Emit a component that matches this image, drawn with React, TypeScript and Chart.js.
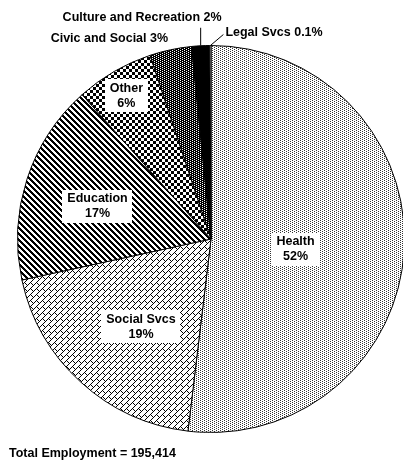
import React, { useEffect, useRef } from "react";
import { Chart, registerables } from "chart.js";

Chart.register(...registerables);

// ---- Data ----
const categories = [
  "Health",
  "Social Svcs",
  "Education",
  "Other",
  "Civic and Social",
  "Culture and Recreation",
  "Legal Svcs",
];
const shares = [51.9, 19.7, 16.8, 6.5, 3.5, 1.5, 0.1];
const shareLabels = ["52%", "19%", "17%", "6%", "3%", "2%", "0.1%"];
const totalEmployment = "195,414";

// ---- Styling / placement (not data) ----
const FONT = "bold 12.5px 'Liberation Sans', Arial, Helvetica, sans-serif";

// inside labels: radius fraction + angle nudge (degrees)
const innerPlacement: Record<number, { r: number; da: number }> = {
  0: { r: 0.44, da: 3.4 },
  1: { r: 0.58, da: -3.7 },
  2: { r: 0.61, da: -2 },
  3: { r: 0.86, da: -0.5 },
};

// outside labels: offsets from the arc's outer mid point
const outerPlacement: Record<
  number,
  { line?: [number, number]; tx: number; ty: number; align: CanvasTextAlign }
> = {
  4: { tx: -2.5, ty: -11.3, align: "right" },
  5: { line: [0, -18], tx: 21, ty: -28, align: "right" },
  6: { line: [13, -11], tx: 15, ty: -12.5, align: "left" },
};

function pixelPattern(
  w: number,
  h: number,
  fn: (x: number, y: number) => string
): CanvasPattern | string {
  const c = document.createElement("canvas");
  c.width = w;
  c.height = h;
  const ctx = c.getContext("2d")!;
  for (let y = 0; y < h; y++) {
    for (let x = 0; x < w; x++) {
      ctx.fillStyle = fn(x, y);
      ctx.fillRect(x, y, 1, 1);
    }
  }
  const main = document.createElement("canvas").getContext("2d")!;
  return main.createPattern(c, "repeat") || "#888";
}

const mod = (a: number, n: number) => ((a % n) + n) % n;

function makePatterns() {
  const health = pixelPattern(4, 2, (x, y) =>
    (x === 0 && y === 0) || (x === 2 && y === 1) ? "#333" : "#fff"
  );
  const social = pixelPattern(12, 12, (x, y) => {
    const a = x + y;
    const b = x - y;
    if (mod(a, 6) === 0) return "#000";
    const k = Math.floor(a / 6);
    const off = mod(k, 2) * 6;
    if (mod(b, 12) === off) return "#000";
    return "#fff";
  });
  const education = pixelPattern(6, 6, (x, y) =>
    mod(x - y, 6) < 3 ? "#000" : "#fff"
  );
  const other = pixelPattern(6, 6, (x, y) =>
    (Math.floor(x / 3) + Math.floor(y / 3)) % 2 === 0 ? "#000" : "#fff"
  );
  const civic = pixelPattern(4, 2, (x, y) =>
    (x === 0 && y === 0) || (x === 2 && y === 1) ? "#fff" : "#000"
  );
  return [health, social, education, other, civic, "#000", "#fff"];
}

const labelsPlugin = {
  id: "sliceLabels",
  afterDatasetsDraw(chart: any) {
    const ctx: CanvasRenderingContext2D = chart.ctx;
    const meta = chart.getDatasetMeta(0);
    ctx.save();
    ctx.font = FONT;
    ctx.textBaseline = "middle";
    meta.data.forEach((arc: any, i: number) => {
      const { x, y, startAngle, endAngle, outerRadius } = arc.getProps(
        ["x", "y", "startAngle", "endAngle", "outerRadius"],
        true
      );
      const mid = (startAngle + endAngle) / 2;
      const inner = innerPlacement[i];
      if (inner) {
        const a = mid + (inner.da * Math.PI) / 180;
        const px = x + Math.cos(a) * outerRadius * inner.r;
        const py = y + Math.sin(a) * outerRadius * inner.r;
        const lines = [categories[i], shareLabels[i]];
        const w = Math.max(...lines.map((l) => ctx.measureText(l).width));
        const lh = 15;
        const bw = w + 10;
        const bh = 33;
        ctx.fillStyle = "#fff";
        ctx.fillRect(Math.round(px - bw / 2), Math.round(py - bh / 2), Math.round(bw), bh);
        ctx.fillStyle = "#000";
        ctx.textAlign = "center";
        ctx.fillText(lines[0], px, py - lh / 2);
        ctx.fillText(lines[1], px, py + lh / 2);
      }
      const outer = outerPlacement[i];
      if (outer) {
        const ax = x + Math.cos(mid) * outerRadius;
        const ay = y + Math.sin(mid) * outerRadius;
        if (outer.line) {
          ctx.strokeStyle = "#000";
          ctx.lineWidth = 1;
          ctx.beginPath();
          ctx.moveTo(ax, ay);
          ctx.lineTo(ax + outer.line[0], ay + outer.line[1]);
          ctx.stroke();
        }
        ctx.fillStyle = "#000";
        ctx.textAlign = outer.align;
        ctx.fillText(
          `${categories[i]} ${shareLabels[i]}`,
          ax + outer.tx,
          ay + outer.ty
        );
      }
    });
    ctx.textAlign = "left";
    ctx.fillStyle = "#000";
    ctx.fillText(`Total Employment = ${totalEmployment}`, 9, 454);
    ctx.restore();
  },
};

export default function App() {
  const ref = useRef<HTMLCanvasElement | null>(null);
  useEffect(() => {
    if (!ref.current) return;
    const chart = new Chart(ref.current, {
      type: "pie",
      data: {
        labels: categories,
        datasets: [
          {
            data: shares,
            backgroundColor: makePatterns() as any,
            borderColor: "#000",
            borderWidth: 1,
            hoverBorderWidth: 1,
            hoverOffset: 0,
          },
        ],
      },
      options: {
        responsive: false,
        animation: false,
        devicePixelRatio: 1,
        layout: { padding: { top: 45, bottom: 30, left: 17, right: 17 } },
        plugins: {
          legend: { display: false },
          tooltip: { enabled: false },
        },
        events: [],
      },
      plugins: [labelsPlugin],
    });
    return () => chart.destroy();
  }, []);
  return (
    <div
      style={{
        position: "fixed",
        left: 0,
        top: 0,
        width: 403,
        height: 463,
        overflow: "hidden",
        background: "#fff",
      }}
    >
      <canvas
        ref={ref}
        width={422}
        height={463}
        style={{ display: "block", width: 422, height: 463 }}
      />
    </div>
  );
}
